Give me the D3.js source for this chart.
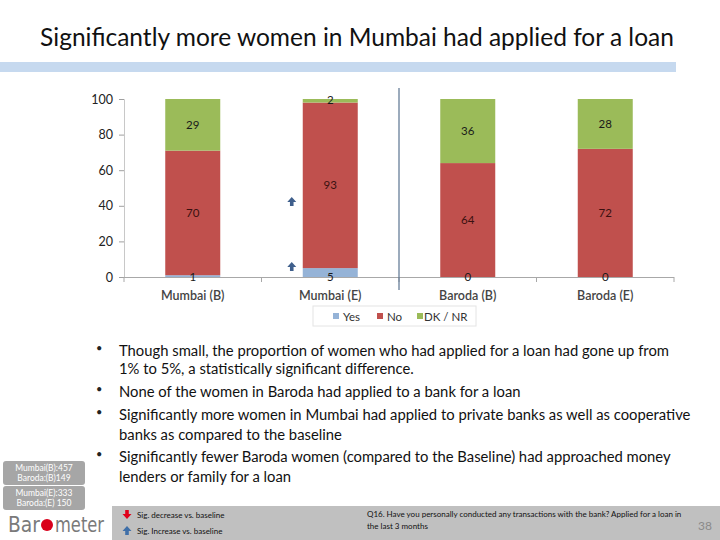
<!DOCTYPE html>
<html><head><meta charset="utf-8">
<script src="https://cdn.jsdelivr.net/npm/d3@7"></script>
<style>body{margin:0;background:#fff}svg{display:block}</style>
</head><body>
<script>
const categories = ["Mumbai (B)", "Mumbai (E)", "Baroda (B)", "Baroda (E)"];
const seriesNames = ["Yes", "No", "DK / NR"];
const yesValues = [1, 5, 0, 0];
const noValues = [70, 93, 64, 72];
const dkValues = [29, 2, 36, 28];
const yTicks = [0, 20, 40, 60, 80, 100];
const sigUp = [{cat: "Mumbai (E)", series: "Yes"}, {cat: "Mumbai (E)", series: "No"}];
const bullets = [
  ["Though small, the proportion of women who had applied for a loan had gone up from", "1% to 5%, a statistically significant difference."],
  ["None of the women in Baroda had applied to a bank for a loan"],
  ["Significantly more women in Mumbai had applied to private banks as well as cooperative", "banks as compared to the baseline"],
  ["Significantly fewer Baroda women (compared to the Baseline) had approached money", "lenders or family for a loan"]
];
const sampleSizes = [["Mumbai(B):457", "Baroda:(B)149"], ["Mumbai(E):333", "Baroda:(E) 150"]];

const W = 720, H = 540;
const colors = {"Yes": "#95b3d7", "No": "#c0504d", "DK / NR": "#9bbb59"};
const svg = d3.select("body").append("svg").attr("width", W).attr("height", H);
const font = "Lato, 'Open Sans', sans-serif";

// title
svg.append("text").attr("x", 357).attr("y", 46).attr("text-anchor", "middle")
  .attr("font-family", font).attr("font-size", 24.5).attr("fill", "#111")
  .text("Significantly more women in Mumbai had applied for a loan");
svg.append("rect").attr("x", 0).attr("y", 62).attr("width", 676).attr("height", 10).attr("fill", "#c6d9ef");

// chart
const x = d3.scaleBand().domain(categories).range([124, 674]).paddingInner(0.6).paddingOuter(0.3);
const y = d3.scaleLinear().domain([0, 100]).range([277, 99]);

const data = categories.map((c, i) => ({cat: c, "Yes": yesValues[i], "No": noValues[i], "DK / NR": dkValues[i]}));
const stack = d3.stack().keys(seriesNames)(data);

const g = svg.append("g");
g.selectAll("g.s").data(stack).join("g").attr("fill", d => colors[d.key])
  .selectAll("rect").data(d => d).join("rect")
  .attr("x", d => x(d.data.cat)).attr("width", x.bandwidth())
  .attr("y", d => y(d[1])).attr("height", d => y(d[0]) - y(d[1]));

// y axis
const yAxis = svg.append("g").attr("transform", "translate(124,0)")
  .call(d3.axisLeft(y).tickValues(yTicks).tickSize(5).tickPadding(6));
yAxis.select(".domain").attr("stroke", "#c8c8c8");
yAxis.selectAll(".tick line").attr("stroke", "#a0a0a0");
yAxis.selectAll("text").attr("font-family", font).attr("font-size", 12.5).attr("fill", "#222");

// x axis
const xb = d3.scaleLinear().domain([0, categories.length]).range([124, 674]);
svg.append("line").attr("x1", 124).attr("x2", 674).attr("y1", 277.5).attr("y2", 277.5).attr("stroke", "#a8a8a8");
d3.range(categories.length + 1).forEach(i => {
  svg.append("line").attr("x1", xb(i)).attr("x2", xb(i)).attr("y1", 277).attr("y2", 282).attr("stroke", "#a8a8a8");
});
svg.selectAll("text.cat").data(categories).join("text").attr("class", "cat")
  .attr("x", d => x(d) + x.bandwidth() / 2).attr("y", 300).attr("text-anchor", "middle")
  .attr("font-family", font).attr("font-size", 12.5).attr("font-weight", 600).attr("fill", "#444").text(d => d);

// separator
svg.append("line").attr("x1", xb(2)).attr("x2", xb(2)).attr("y1", 88).attr("y2", 290).attr("stroke", "#5a7390").attr("stroke-width", 1.2);

// value labels
stack.forEach(s => {
  s.forEach(d => {
    const v = d[1] - d[0];
    let yy;
    if (s.key === "Yes") yy = y(0) + 4;
    else if (v < 4) yy = y(d[1]) + 5;
    else yy = (y(d[0]) + y(d[1])) / 2 + 4;
    svg.append("text").attr("x", x(d.data.cat) + x.bandwidth() / 2).attr("y", yy)
      .attr("text-anchor", "middle").attr("font-family", font).attr("font-size", 11.5)
      .attr("fill", s.key === "No" ? "#3a1010" : "#1a1a1a").text(v);
  });
});

// sig arrows
function upArrow(sel, cx, cy, col) {
  sel.append("path").attr("d", `M${cx},${cy - 5} L${cx + 4.5},${cy} L${cx + 1.8},${cy} L${cx + 1.8},${cy + 4} L${cx - 1.8},${cy + 4} L${cx - 1.8},${cy} L${cx - 4.5},${cy} Z`).attr("fill", col);
}
function downArrow(sel, cx, cy, col) {
  sel.append("path").attr("d", `M${cx},${cy + 5} L${cx + 4.5},${cy} L${cx + 1.8},${cy} L${cx + 1.8},${cy - 4} L${cx - 1.8},${cy - 4} L${cx - 1.8},${cy} L${cx - 4.5},${cy} Z`).attr("fill", col);
}
sigUp.forEach(a => {
  const i = categories.indexOf(a.cat);
  const cx = x(a.cat) - 11;
  const cy = a.series === "Yes" ? y(yesValues[i]) - 1 : y(yesValues[i] + noValues[i] * 0.4);
  upArrow(svg, cx, cy, "#3f5f8c");
});

// legend
const lg = svg.append("g");
lg.append("rect").attr("x", 313).attr("y", 306).attr("width", 163).attr("height", 20).attr("fill", "#fff").attr("stroke", "#e4e4e4");
const legX = [333, 377, 417];
const legTX = [343, 387, 424];
seriesNames.forEach((s, i) => {
  lg.append("rect").attr("x", legX[i]).attr("y", 313).attr("width", 6).attr("height", 6).attr("fill", colors[s]);
  lg.append("text").attr("x", legTX[i]).attr("y", 320.5).attr("font-family", font).attr("font-size", 11.5).attr("fill", "#333").text(s);
});

// bullets
const lineYs = [[356, 374], [397], [420, 440], [462, 482]];
bullets.forEach((b, i) => {
  svg.append("text").attr("x", 96).attr("y", lineYs[i][0] - 4).attr("font-family", font).attr("font-size", 11).attr("fill", "#222").text("•");
  b.forEach((t, j) => {
    svg.append("text").attr("x", 119).attr("y", lineYs[i][j]).attr("font-family", font).attr("font-size", 14.8).attr("fill", "#111").text(t);
  });
});

// sample size boxes
sampleSizes.forEach((s, i) => {
  const by = 461 + i * 25;
  svg.append("rect").attr("x", 3).attr("y", by).attr("width", 82).attr("height", 24).attr("rx", 3).attr("fill", "#a6a6a6");
  s.forEach((t, j) => {
    svg.append("text").attr("x", 44).attr("y", by + 10 + j * 10).attr("text-anchor", "middle")
      .attr("font-family", font).attr("font-size", 8.5).attr("fill", "#fff").text(t);
  });
});

// logo
const lf = "'DejaVu Sans', sans-serif";
svg.append("text").attr("x", 8).attr("y", 532).attr("font-family", lf).attr("font-size", 21).attr("fill", "#7a7a7a")
  .attr("textLength", 32).attr("lengthAdjust", "spacingAndGlyphs").text("Bar");
svg.append("circle").attr("cx", 47).attr("cy", 525).attr("r", 6).attr("fill", "#d9001b");
svg.append("text").attr("x", 55).attr("y", 532).attr("font-family", lf).attr("font-size", 21).attr("fill", "#7a7a7a")
  .attr("textLength", 49).attr("lengthAdjust", "spacingAndGlyphs").text("meter");

// footer band
svg.append("rect").attr("x", 112).attr("y", 506).attr("width", 608).attr("height", 34).attr("fill", "#c0c0c0");
downArrow(svg, 127, 514, "#e0001a");
upArrow(svg, 127, 531, "#3f6fa8");
svg.append("text").attr("x", 137).attr("y", 518).attr("font-family", font).attr("font-size", 8).attr("fill", "#111").text("Sig. decrease vs. baseline");
svg.append("text").attr("x", 137).attr("y", 534).attr("font-family", font).attr("font-size", 8).attr("fill", "#111").text("Sig. Increase vs. baseline");
svg.append("text").attr("x", 367).attr("y", 517).attr("font-family", font).attr("font-size", 8).attr("fill", "#111").text("Q16. Have you personally conducted any transactions with the bank? Applied for a loan in");
svg.append("text").attr("x", 367).attr("y", 529).attr("font-family", font).attr("font-size", 8).attr("fill", "#111").text("the last 3 months");
svg.append("text").attr("x", 712).attr("y", 530).attr("text-anchor", "end").attr("font-family", font).attr("font-size", 12).attr("fill", "#8a8a8a").text("38");
</script>
</body></html>
